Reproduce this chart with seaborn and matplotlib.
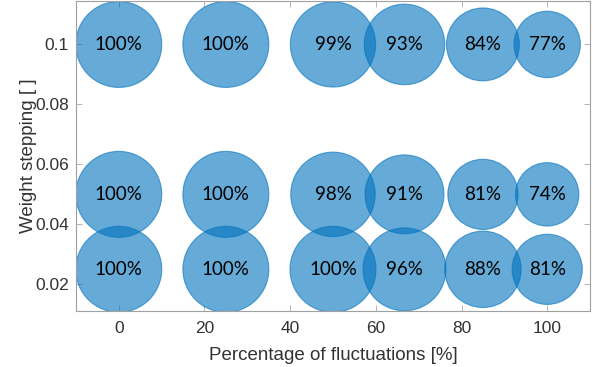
import pandas as pd
import numpy as np
import seaborn as sns
import matplotlib.pyplot as plt

fluct = [0, 25, 50, 66.7, 85, 100]
steps = [0.1, 0.05, 0.025]
acc = {
    0.1: [100, 100, 99, 93, 84, 77],
    0.05: [100, 100, 98, 91, 81, 74],
    0.025: [100, 100, 100, 96, 88, 81],
}

rows = []
for s in steps:
    for f, a in zip(fluct, acc[s]):
        rows.append({"fluct": f, "step": s, "acc": a})
df = pd.DataFrame(rows)

sns.set_style("white")
plt.rcParams['font.family'] = ['Liberation Sans', 'DejaVu Sans']

fig = plt.figure(figsize=(5.93, 3.67), dpi=100)
ax = fig.add_axes([0.128, 0.1526, 0.867, 0.844])

sns.scatterplot(data=df, x="fluct", y="step", size="acc", sizes=(2083, 3832),
                size_norm=(74, 100), legend=False, color="#0072BD", alpha=0.6,
                edgecolor="#0072BD", linewidth=0.8, ax=ax)

for _, r in df.iterrows():
    ax.text(r["fluct"], r["step"], f"{r['acc']:.0f}%", ha="center", va="center",
            fontsize=13.5, family=["Lato", "DejaVu Sans"], color="black")

ax.set_xlim(-10, 110)
ax.set_ylim(0.0111, 0.1144)
ax.set_xticks([0, 20, 40, 60, 80, 100])
ax.set_yticks([0.02, 0.04, 0.06, 0.08, 0.1])
ax.set_yticklabels(["0.02", "0.04", "0.06", "0.08", "0.1"])
ax.tick_params(direction="in", length=4, width=0.6, colors="#aaaaaa",
               labelcolor="#333333", labelsize=12.5, top=True, right=True,
               bottom=True, left=True, pad=5)
ax.tick_params(axis="x", pad=7)
for sp in ax.spines.values():
    sp.set_color("#a0a0a0")
    sp.set_linewidth(0.8)

ax.set_xlabel("Percentage of fluctuations [%]", fontsize=13.5, color="#333333", labelpad=8)
ax.set_ylabel("Weight stepping [ ]", fontsize=13.5, color="#333333", labelpad=-1)

plt.savefig("out.png", dpi=100)
